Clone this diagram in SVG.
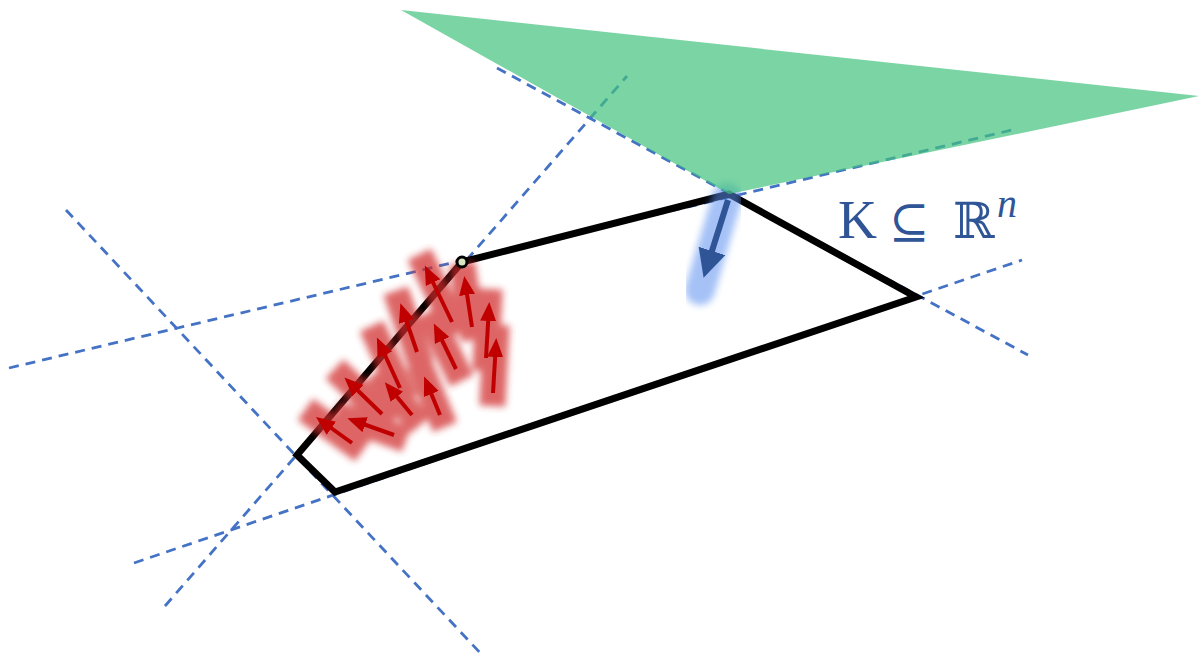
<svg xmlns="http://www.w3.org/2000/svg" width="1199" height="661" viewBox="0 0 1199 661">
<style>
.dash{stroke:#4472C4;stroke-width:2.8;stroke-dasharray:10 7;fill:none}
.poly{fill:none;stroke:#000;stroke-width:7;stroke-linejoin:miter}
.red{stroke:#C00000;stroke-width:4;fill:none;marker-end:url(#rh)}
.rglow{stroke:#D02C2C;stroke-width:26;stroke-linecap:square;fill:none}
.lbl{fill:#2F5597}
</style>
<defs>
<marker id="rh" markerUnits="userSpaceOnUse" markerWidth="24" markerHeight="20" refX="14" refY="8" orient="auto">
<path d="M0,0 L19,8 L0,16 z" fill="#C00000"/>
</marker>
<marker id="bh" markerUnits="userSpaceOnUse" markerWidth="34" markerHeight="34" refX="20" refY="14" orient="auto">
<path d="M0,0 L28,14 L0,28 z" fill="#2F5597"/>
</marker>
<filter id="blur" x="-50%" y="-50%" width="200%" height="200%">
<feGaussianBlur stdDeviation="3.5"/>
</filter>
</defs>
<g id="connectors">
<line class="dash" x1="66" y1="210" x2="484" y2="657"/>
<line class="dash" x1="9" y1="368" x2="1012" y2="130"/>
<line class="dash" x1="165" y1="606" x2="627" y2="76"/>
<line class="dash" x1="134" y1="563" x2="1022" y2="260"/>
<line class="dash" x1="497" y1="68" x2="1028" y2="355"/>
</g>
<g id="polytope">
<path class="poly" d="M462,262 L729,194 L916,297 L335,492 L297,455 Z"/>
</g>
<g id="red-glow" filter="url(#blur)" opacity="0.72">
<line class="rglow" x1="452" y1="322" x2="425" y2="266"/>
<line class="rglow" x1="472" y1="327" x2="464" y2="276"/>
<line class="rglow" x1="486" y1="358" x2="489" y2="302"/>
<line class="rglow" x1="493" y1="393" x2="496" y2="338"/>
<line class="rglow" x1="417" y1="352" x2="400" y2="303"/>
<line class="rglow" x1="456" y1="369" x2="434" y2="324"/>
<line class="rglow" x1="400" y1="388" x2="377" y2="338"/>
<line class="rglow" x1="440" y1="415" x2="424" y2="376"/>
<line class="rglow" x1="412" y1="415" x2="385" y2="382"/>
<line class="rglow" x1="382" y1="414" x2="344" y2="378"/>
<line class="rglow" x1="394" y1="435" x2="347" y2="418"/>
<line class="rglow" x1="352" y1="443" x2="316" y2="417"/>
</g>
<g id="red-arrows">
<line class="red" x1="452" y1="322" x2="427" y2="270"/>
<line class="red" x1="472" y1="327" x2="465" y2="281"/>
<line class="red" x1="486" y1="358" x2="489" y2="307"/>
<line class="red" x1="493" y1="393" x2="496" y2="343"/>
<line class="red" x1="417" y1="352" x2="402" y2="308"/>
<line class="red" x1="456" y1="369" x2="436" y2="328"/>
<line class="red" x1="400" y1="388" x2="379" y2="342"/>
<line class="red" x1="440" y1="415" x2="426" y2="381"/>
<line class="red" x1="412" y1="415" x2="388" y2="386"/>
<line class="red" x1="382" y1="414" x2="348" y2="381"/>
<line class="red" x1="394" y1="435" x2="352" y2="420"/>
<line class="red" x1="352" y1="443" x2="320" y2="420"/>
</g>
<g id="vertex">
<circle cx="462" cy="262" r="5" fill="#D8E6C2" stroke="#000" stroke-width="3"/>
</g>
<g id="blue-arrow">
<line x1="727" y1="198" x2="700" y2="290" stroke="#5B8FF0" stroke-width="30" stroke-linecap="round" opacity="0.55" filter="url(#blur)"/>
<line x1="728" y1="200" x2="706" y2="270" stroke="#2F5597" stroke-width="6" marker-end="url(#bh)"/>
</g>
<g id="cone">
<polygon points="401,10 1199,96 729,194" fill="#41C27E" opacity="0.7"/>
</g>
<g id="label">
<text class="lbl" y="238" font-size="54"><tspan x="838" font-family="Liberation Serif, serif">K</tspan><tspan x="889" font-family="DejaVu Serif, serif" font-size="48">⊆</tspan><tspan x="953" font-family="DejaVu Serif, serif" font-size="50">ℝ</tspan><tspan x="997" y="217" font-family="Liberation Serif, serif" font-style="italic" font-size="40">n</tspan></text>
</g>
</svg>
